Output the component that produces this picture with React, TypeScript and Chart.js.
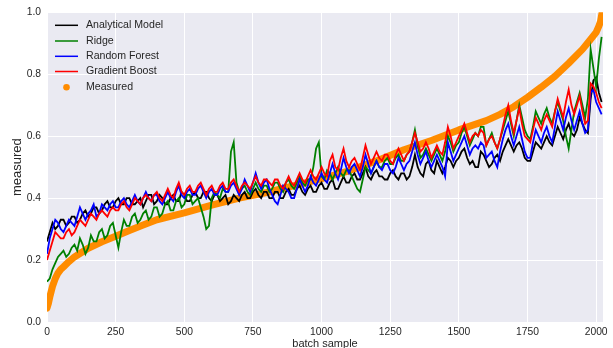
import { useEffect, useRef } from "react";
import { Chart, registerables } from "chart.js";

Chart.register(...registerables);

// sample step between the read-off values of each model series
const STEP = 10;

const analyticalModel = [
  0.26, 0.29, 0.32, 0.30, 0.31, 0.33, 0.33, 0.31, 0.32, 0.34,
  0.34, 0.32, 0.33, 0.35, 0.36, 0.34, 0.35, 0.37, 0.37, 0.35,
  0.36, 0.38, 0.39, 0.37, 0.37, 0.39, 0.40, 0.38, 0.38, 0.40,
  0.40, 0.38, 0.38, 0.39, 0.40, 0.37, 0.39, 0.41, 0.41, 0.38,
  0.39, 0.41, 0.40, 0.38, 0.38, 0.40, 0.41, 0.39, 0.39, 0.42,
  0.41, 0.39, 0.39, 0.41, 0.42, 0.40, 0.40, 0.42, 0.42, 0.40,
  0.39, 0.41, 0.41, 0.39, 0.40, 0.41, 0.38, 0.39, 0.41, 0.40,
  0.39, 0.41, 0.42, 0.40, 0.40, 0.42, 0.43, 0.41, 0.40, 0.42,
  0.42, 0.40, 0.40, 0.42, 0.42, 0.40, 0.40, 0.42, 0.43, 0.41,
  0.41, 0.43, 0.44, 0.42, 0.41, 0.43, 0.44, 0.42, 0.42, 0.44,
  0.45, 0.43, 0.43, 0.45, 0.46, 0.43, 0.43, 0.45, 0.47, 0.45,
  0.45, 0.47, 0.48, 0.46, 0.46, 0.48, 0.50, 0.47, 0.46, 0.48,
  0.49, 0.47, 0.47, 0.46, 0.46, 0.48, 0.49, 0.47, 0.46, 0.48,
  0.48, 0.46, 0.47, 0.50, 0.54, 0.50, 0.48, 0.47, 0.51, 0.52,
  0.49, 0.48, 0.52, 0.50, 0.48, 0.50, 0.53, 0.52, 0.50, 0.52,
  0.53, 0.55, 0.56, 0.53, 0.51, 0.52, 0.50, 0.50, 0.55, 0.54,
  0.52, 0.50, 0.51, 0.53, 0.54, 0.52, 0.55, 0.57, 0.59, 0.57,
  0.55, 0.57, 0.58, 0.56, 0.53, 0.52, 0.52, 0.55, 0.58, 0.57,
  0.56, 0.58, 0.60, 0.58, 0.57, 0.60, 0.63, 0.61, 0.59, 0.62,
  0.64, 0.61, 0.60, 0.62, 0.66, 0.64, 0.62, 0.61, 0.72, 0.78,
  0.79, 0.74, 0.71,
];

const ridge = [
  0.13, 0.14, 0.17, 0.19, 0.21, 0.22, 0.23, 0.21, 0.22, 0.24,
  0.25, 0.23, 0.27, 0.25, 0.22, 0.24, 0.28, 0.26, 0.26, 0.29,
  0.30, 0.27, 0.28, 0.31, 0.32, 0.28, 0.24, 0.29, 0.33, 0.31,
  0.31, 0.34, 0.35, 0.32, 0.33, 0.35, 0.36, 0.33, 0.34, 0.37,
  0.37, 0.34, 0.35, 0.38, 0.39, 0.36, 0.36, 0.39, 0.40, 0.37,
  0.38, 0.41, 0.41, 0.38, 0.39, 0.40, 0.37, 0.34, 0.30, 0.31,
  0.40, 0.42, 0.41, 0.40, 0.43, 0.42, 0.42, 0.55, 0.58, 0.45,
  0.42, 0.43, 0.44, 0.42, 0.41, 0.43, 0.45, 0.43, 0.42, 0.44,
  0.44, 0.42, 0.43, 0.45, 0.45, 0.43, 0.42, 0.45, 0.46, 0.44,
  0.43, 0.45, 0.47, 0.45, 0.44, 0.46, 0.46, 0.50, 0.56, 0.58,
  0.47, 0.46, 0.49, 0.48, 0.46, 0.48, 0.50, 0.48, 0.47, 0.49,
  0.49, 0.47, 0.45, 0.43, 0.42, 0.46, 0.50, 0.49, 0.48, 0.50,
  0.52, 0.50, 0.50, 0.52, 0.53, 0.51, 0.51, 0.53, 0.54, 0.52,
  0.52, 0.54, 0.55, 0.58, 0.62, 0.57, 0.53, 0.54, 0.56, 0.54,
  0.52, 0.54, 0.56, 0.54, 0.52, 0.55, 0.60, 0.58, 0.55, 0.57,
  0.58, 0.61, 0.63, 0.60, 0.57, 0.59, 0.61, 0.60, 0.63, 0.63,
  0.57, 0.59, 0.61, 0.58, 0.56, 0.59, 0.62, 0.65, 0.68, 0.64,
  0.60, 0.65, 0.70, 0.66, 0.62, 0.60, 0.59, 0.63, 0.68, 0.66,
  0.64, 0.67, 0.69, 0.66, 0.64, 0.68, 0.71, 0.68, 0.65, 0.60,
  0.56, 0.62, 0.68, 0.71, 0.74, 0.70, 0.66, 0.72, 0.88, 0.82,
  0.76, 0.85, 0.92,
];

const randomForest = [
  0.22, 0.27, 0.30, 0.33, 0.32, 0.30, 0.29, 0.31, 0.33, 0.32,
  0.31, 0.34, 0.37, 0.35, 0.33, 0.35, 0.36, 0.38, 0.34, 0.35,
  0.38, 0.37, 0.36, 0.38, 0.39, 0.37, 0.37, 0.39, 0.40, 0.38,
  0.37, 0.39, 0.41, 0.39, 0.38, 0.40, 0.42, 0.40, 0.39, 0.41,
  0.41, 0.39, 0.38, 0.40, 0.42, 0.40, 0.39, 0.42, 0.44, 0.41,
  0.40, 0.42, 0.43, 0.41, 0.41, 0.43, 0.44, 0.42, 0.40, 0.42,
  0.43, 0.41, 0.41, 0.43, 0.44, 0.42, 0.42, 0.44, 0.45, 0.43,
  0.41, 0.43, 0.46, 0.44, 0.42, 0.45, 0.48, 0.45, 0.43, 0.45,
  0.46, 0.43, 0.41, 0.39, 0.38, 0.41, 0.44, 0.43, 0.42, 0.40,
  0.40, 0.43, 0.46, 0.44, 0.42, 0.44, 0.47, 0.45, 0.44, 0.46,
  0.48, 0.46, 0.45, 0.48, 0.51, 0.48, 0.46, 0.49, 0.53, 0.50,
  0.48, 0.50, 0.51, 0.49, 0.47, 0.50, 0.54, 0.51, 0.48, 0.50,
  0.52, 0.50, 0.49, 0.51, 0.51, 0.49, 0.48, 0.50, 0.53, 0.51,
  0.49, 0.51, 0.52, 0.55, 0.58, 0.54, 0.51, 0.53, 0.55, 0.52,
  0.50, 0.52, 0.54, 0.52, 0.50, 0.47, 0.58, 0.55, 0.52, 0.54,
  0.56, 0.58, 0.60, 0.57, 0.54, 0.56, 0.57, 0.56, 0.58, 0.57,
  0.53, 0.54, 0.55, 0.52, 0.50, 0.55, 0.59, 0.62, 0.64, 0.60,
  0.57, 0.60, 0.63, 0.59, 0.55, 0.53, 0.53, 0.58, 0.62, 0.60,
  0.58, 0.61, 0.63, 0.60, 0.58, 0.63, 0.68, 0.65, 0.62, 0.66,
  0.69, 0.65, 0.62, 0.65, 0.68, 0.64, 0.61, 0.62, 0.74, 0.75,
  0.71, 0.69, 0.67,
];

const gradientBoost = [
  0.20, 0.23, 0.26, 0.29, 0.28, 0.27, 0.27, 0.29, 0.30, 0.28,
  0.29, 0.31, 0.33, 0.32, 0.31, 0.33, 0.35, 0.34, 0.33, 0.35,
  0.36, 0.35, 0.34, 0.36, 0.37, 0.36, 0.36, 0.38, 0.39, 0.37,
  0.36, 0.38, 0.40, 0.39, 0.38, 0.40, 0.41, 0.40, 0.39, 0.41,
  0.42, 0.40, 0.39, 0.41, 0.43, 0.41, 0.40, 0.43, 0.45, 0.42,
  0.41, 0.43, 0.44, 0.42, 0.42, 0.44, 0.45, 0.43, 0.41, 0.43,
  0.44, 0.42, 0.42, 0.44, 0.45, 0.43, 0.43, 0.45, 0.46, 0.44,
  0.42, 0.44, 0.45, 0.44, 0.43, 0.45, 0.47, 0.45, 0.44, 0.46,
  0.46, 0.45, 0.44, 0.46, 0.46, 0.44, 0.43, 0.45, 0.47, 0.45,
  0.44, 0.46, 0.48, 0.46, 0.45, 0.47, 0.49, 0.47, 0.46, 0.48,
  0.50, 0.48, 0.47, 0.52, 0.54, 0.50, 0.49, 0.53, 0.56, 0.52,
  0.50, 0.52, 0.53, 0.51, 0.49, 0.53, 0.57, 0.54, 0.51, 0.53,
  0.55, 0.53, 0.52, 0.54, 0.54, 0.52, 0.51, 0.54, 0.56, 0.54,
  0.52, 0.54, 0.55, 0.58, 0.61, 0.58, 0.55, 0.56, 0.58, 0.56,
  0.53, 0.55, 0.57, 0.55, 0.54, 0.58, 0.63, 0.60, 0.56, 0.58,
  0.60, 0.62, 0.64, 0.61, 0.58, 0.60, 0.61, 0.60, 0.62, 0.61,
  0.57, 0.59, 0.60, 0.58, 0.56, 0.59, 0.63, 0.67, 0.70, 0.65,
  0.61, 0.65, 0.69, 0.64, 0.60, 0.59, 0.58, 0.62, 0.66, 0.64,
  0.62, 0.65, 0.67, 0.65, 0.63, 0.68, 0.72, 0.69, 0.66, 0.71,
  0.75, 0.70, 0.67, 0.70, 0.73, 0.68, 0.64, 0.65, 0.77, 0.76,
  0.74, 0.71, 0.69,
];

// measured values (sorted), read at these batch-sample positions
const measuredX = [
  0, 5, 10, 20, 30, 40, 50, 60, 80, 100, 150, 200, 250, 300, 350, 400,
  500, 600, 700, 800, 900, 1000, 1100, 1200, 1300, 1400, 1500, 1600,
  1650, 1700, 1750, 1800, 1850, 1900, 1950, 1975, 2000, 2010, 2016, 2022,
];
const measuredY = [
  0.045, 0.06, 0.08, 0.115, 0.14, 0.158, 0.17, 0.178, 0.195, 0.21, 0.238,
  0.259, 0.277, 0.295, 0.313, 0.33, 0.352, 0.377, 0.4, 0.418, 0.44, 0.463,
  0.488, 0.52, 0.556, 0.586, 0.62, 0.65, 0.67, 0.695, 0.725, 0.758, 0.793,
  0.835, 0.88, 0.907, 0.935, 0.955, 0.97, 1.0,
];

const xTickValues = [0, 250, 500, 750, 1000, 1250, 1500, 1750, 2000];
const yTickValues = [0, 0.2, 0.4, 0.6, 0.8, 1.0];

const seriesLabels = ["Analytical Model", "Ridge", "Random Forest", "Gradient Boost", "Measured"];
const seriesColors = ["#000000", "#008000", "#0000ff", "#ff0000", "#ff8c00"];

const FONT = "'Liberation Sans', Arial, sans-serif";
const TEXT = "#262626";

export default function App() {
  const ref = useRef<HTMLCanvasElement | null>(null);

  useEffect(() => {
    const canvas = ref.current;
    if (!canvas) return;
    const sampleIdx = analyticalModel.map((_, i) => i * STEP);
    const toPts = (arr: number[]) => arr.map((y, i) => ({ x: sampleIdx[i], y }));
    const models = [analyticalModel, ridge, randomForest, gradientBoost];

    const datasets: any[] = models.map((arr, k) => ({
      label: seriesLabels[k],
      data: toPts(arr),
      borderColor: seriesColors[k],
      backgroundColor: seriesColors[k],
      borderWidth: 1.8,
      pointRadius: 0,
      tension: 0,
      order: 4 - k,
    }));
    datasets.push({
      label: seriesLabels[4],
      data: measuredX.map((x, i) => ({ x, y: measuredY[i] })),
      borderColor: seriesColors[4],
      backgroundColor: seriesColors[4],
      borderWidth: 7,
      borderCapStyle: "round",
      borderJoinStyle: "round",
      pointRadius: 0,
      tension: 0,
      order: 5,
    });

    const bgPlugin = {
      id: "bg",
      beforeDraw(chart: any) {
        const { ctx, chartArea: a } = chart;
        ctx.save();
        ctx.fillStyle = "#ffffff";
        ctx.fillRect(0, 0, chart.width, chart.height);
        ctx.fillStyle = "#eaeaf2";
        ctx.fillRect(a.left, a.top, a.right - a.left, a.bottom - a.top);
        ctx.restore();
      },
    };

    const decorPlugin = {
      id: "decor",
      afterDraw(chart: any) {
        const { ctx, chartArea: a } = chart;
        ctx.save();
        // legend
        const rowY = [25.3, 41, 56.3, 71.5, 87.3];
        ctx.font = `10.6px ${FONT}`;
        ctx.textBaseline = "middle";
        ctx.textAlign = "left";
        for (let k = 0; k < 5; k++) {
          const y = rowY[k];
          if (k < 4) {
            ctx.strokeStyle = seriesColors[k];
            ctx.lineWidth = 1.5;
            ctx.beginPath();
            ctx.moveTo(55, y);
            ctx.lineTo(78, y);
            ctx.stroke();
          } else {
            ctx.fillStyle = seriesColors[k];
            ctx.beginPath();
            ctx.arc(66.5, y, 3.3, 0, Math.PI * 2);
            ctx.fill();
          }
          ctx.fillStyle = TEXT;
          ctx.fillText(seriesLabels[k], 86, y);
        }
        // axis titles
        ctx.fillStyle = TEXT;
        ctx.textAlign = "center";
        ctx.font = `11px ${FONT}`;
        ctx.fillText("batch sample", (a.left + a.right) / 2, 344);
        ctx.font = `13px ${FONT}`;
        ctx.translate(17.5, (a.top + a.bottom) / 2);
        ctx.rotate(-Math.PI / 2);
        ctx.fillText("measured", 0, 0);
        ctx.restore();
      },
    };

    const chart = new Chart(canvas, {
      type: "line",
      data: { datasets },
      options: {
        responsive: false,
        animation: false,
        devicePixelRatio: 1,
        layout: { padding: { left: 0, top: 12, right: 10, bottom: 0 } },
        plugins: { legend: { display: false }, tooltip: { enabled: false } },
        scales: {
          x: {
            type: "linear",
            min: 0,
            max: 2025,
            afterBuildTicks: (s: any) => {
              s.ticks = xTickValues.map((value) => ({ value }));
            },
            afterFit: (s: any) => {
              s.height = 26;
            },
            grid: { color: "#ffffff", lineWidth: 1, drawTicks: false },
            border: { display: false },
            ticks: {
              font: { family: FONT, size: 10.3 },
              color: TEXT,
              padding: 4,
              maxRotation: 0,
              autoSkip: false,
              callback: (v: any) => String(v),
            },
          },
          y: {
            type: "linear",
            min: 0,
            max: 1,
            afterBuildTicks: (s: any) => {
              s.ticks = yTickValues.map((value) => ({ value }));
            },
            afterFit: (s: any) => {
              s.width = 47;
            },
            grid: { color: "#ffffff", lineWidth: 1, drawTicks: false },
            border: { display: false },
            ticks: {
              font: { family: FONT, size: 10.3 },
              color: TEXT,
              padding: 6,
              callback: (v: any) => Number(v).toFixed(1),
            },
          },
        },
      },
      plugins: [bgPlugin, decorPlugin],
    });
    return () => chart.destroy();
  }, []);

  return (
    <div style={{ position: "fixed", left: 0, top: 0, width: 613, height: 348, overflow: "hidden", background: "#fff" }}>
      <canvas ref={ref} width={613} height={348} style={{ display: "block", width: 613, height: 348 }} />
    </div>
  );
}
